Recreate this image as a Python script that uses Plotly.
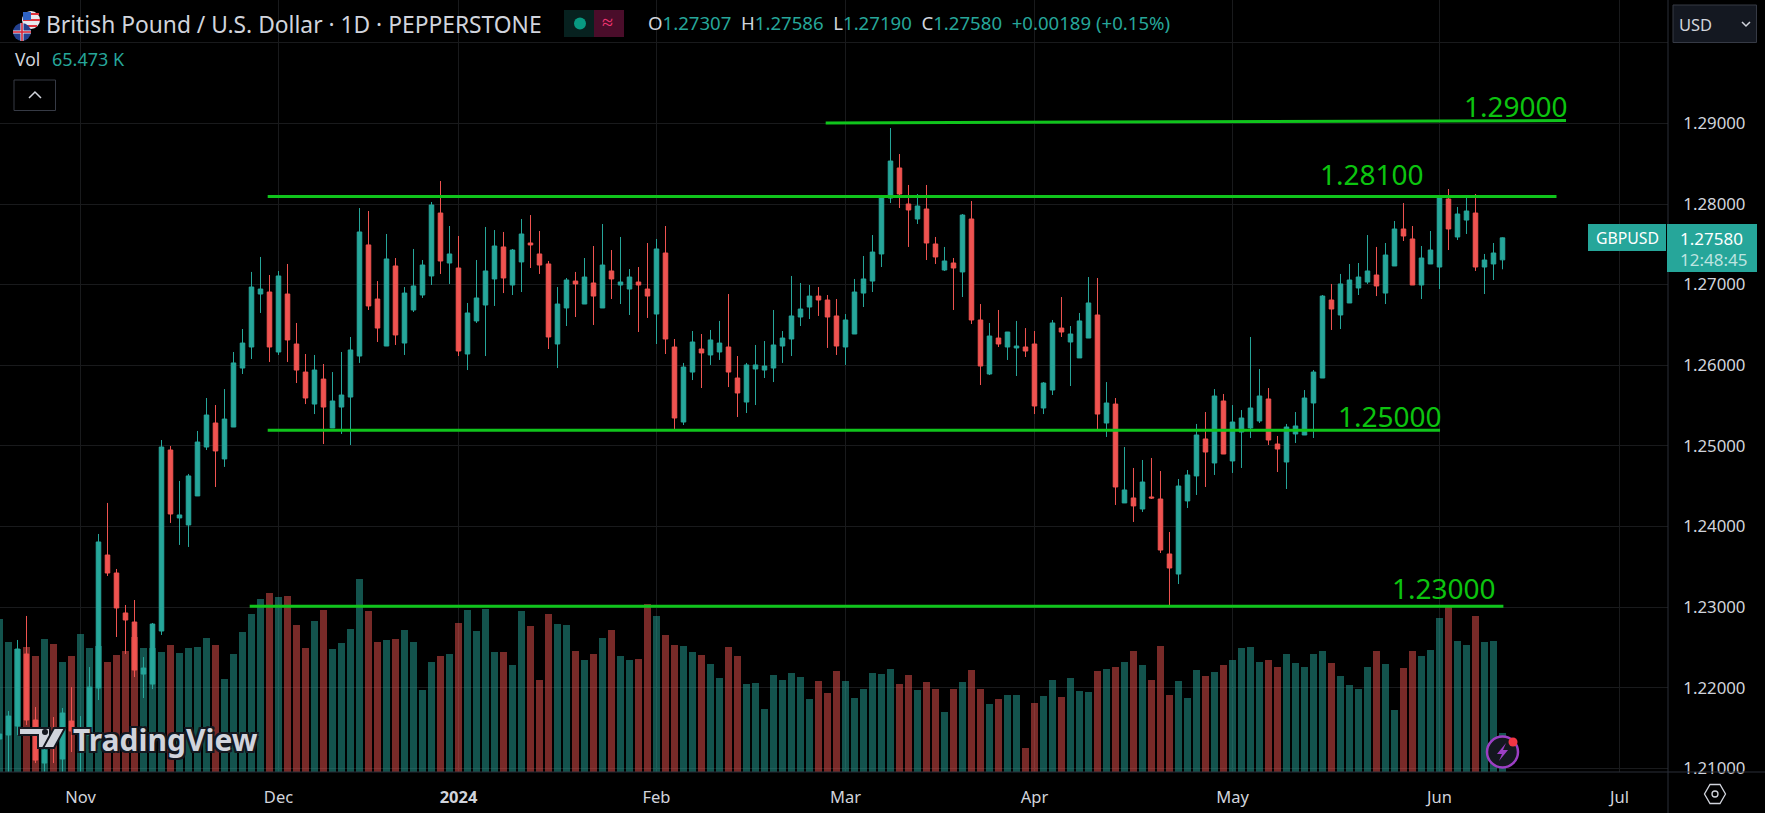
import plotly.graph_objects as go

open_prices = [
1.21362,1.21412,1.21523,1.22417,1.21598,1.21064,1.21412,1.21114,1.21585,1.21288,
1.21412,1.21995,1.23645,1.23422,1.22926,1.22814,1.22168,1.22044,1.22702,1.24948,
1.24105,1.24018,1.24378,1.24985,1.25283,1.24837,1.25233,1.25965,1.26226,1.26883,
1.26908,1.26164,1.26883,1.26263,1.25915,1.25518,1.25828,1.25221,1.25481,1.25605,
1.26114,1.27492,1.26821,1.26238,1.27231,1.26275,1.26685,1.26871,1.27107,1.27888,
1.27268,1.27206,1.26139,1.26549,1.26747,1.27070,1.27467,1.26995,1.27281,1.27516,
1.27380,1.27256,1.26263,1.26710,1.27044,1.26759,1.27020,1.26710,1.27169,1.26995,
1.26945,1.27032,1.26945,1.26635,1.27392,1.26226,1.25295,1.25915,1.26201,1.26127,
1.26164,1.26226,1.25841,1.25543,1.25953,1.25940,1.25965,1.26238,1.26325,1.26598,
1.26722,1.26858,1.26809,1.26611,1.26226,1.26387,1.26895,1.27044,1.27380,1.28074,
1.28447,1.28000,1.27814,1.27938,1.27504,1.27181,1.27268,1.27157,1.27814,1.26561,
1.25891,1.26337,1.26226,1.26214,1.26226,1.26263,1.25469,1.25692,1.26461,1.26288,
1.26090,1.26337,1.26623,1.25283,1.25518,1.24291,1.24353,1.24216,1.24365,1.24340,
1.23658,1.23409,1.24316,1.24626,1.25085,1.24787,1.25556,1.24812,1.25171,1.25221,
1.25308,1.25581,1.25022,1.24799,1.25147,1.25134,1.25531,1.25841,1.26809,1.26623,
1.26772,1.26958,1.27032,1.27119,1.26895,1.27231,1.27690,1.27566,1.26995,1.27256,
1.27218,1.28062,1.27591,1.27801,1.27888,1.27218,1.27256,1.27307]

high_prices = [
1.21536,1.21710,1.22591,1.22889,1.21759,1.21350,1.21635,1.21747,1.22007,1.21647,
1.22255,1.23906,1.24291,1.23472,1.23025,1.23087,1.22379,1.22802,1.25072,1.24997,
1.24564,1.24651,1.25184,1.25593,1.25506,1.25704,1.26164,1.26449,1.27157,1.27343,
1.27119,1.27169,1.27256,1.26524,1.26139,1.26127,1.26015,1.25915,1.26164,1.26350,
1.27950,1.27913,1.27044,1.27628,1.27330,1.26970,1.27442,1.27305,1.28025,1.28285,
1.27727,1.27603,1.26772,1.27305,1.27715,1.27677,1.27653,1.27442,1.27814,1.27863,
1.27665,1.27293,1.26970,1.27082,1.27157,1.27330,1.27479,1.27752,1.27429,1.27591,
1.27193,1.27218,1.27516,1.27566,1.27727,1.26325,1.26028,1.26424,1.26387,1.26437,
1.26549,1.26883,1.26114,1.26028,1.26251,1.26300,1.26685,1.26424,1.27107,1.27020,
1.26995,1.26970,1.26871,1.26821,1.26635,1.27070,1.27355,1.27615,1.28112,1.28943,
1.28620,1.28236,1.28124,1.28236,1.27591,1.27467,1.27330,1.27876,1.28037,1.26759,
1.26524,1.26685,1.26412,1.26549,1.26461,1.26424,1.25791,1.26561,1.26846,1.26486,
1.26648,1.27094,1.27082,1.25791,1.25593,1.24985,1.24725,1.24824,1.24849,1.24687,
1.23931,1.24588,1.24700,1.25271,1.25419,1.25704,1.25643,1.25506,1.25444,1.26350,
1.25953,1.25717,1.25122,1.25271,1.25419,1.25692,1.25940,1.26871,1.27008,1.27132,
1.27256,1.27268,1.27615,1.27467,1.27516,1.27789,1.28012,1.27727,1.27479,1.27665,
1.28099,1.28186,1.27963,1.28099,1.28124,1.27380,1.27516,1.27586]

low_prices = [
1.21201,1.20953,1.21412,1.21536,1.21064,1.20953,1.21064,1.20953,1.21201,1.20953,
1.21288,1.21846,1.23385,1.22628,1.22417,1.22131,1.21871,1.21982,1.22653,1.24043,
1.23770,1.23745,1.24378,1.24948,1.24489,1.24738,1.25233,1.25891,1.26077,1.26648,
1.26040,1.26127,1.26040,1.25779,1.25518,1.25394,1.25022,1.25221,1.25147,1.25010,
1.26028,1.26685,1.26288,1.26238,1.26251,1.26127,1.26660,1.26834,1.26995,1.27132,
1.27008,1.26114,1.25940,1.26524,1.26114,1.26735,1.26895,1.26871,1.26908,1.27206,
1.27132,1.26201,1.25965,1.26486,1.26598,1.26759,1.26499,1.26710,1.26821,1.26759,
1.26623,1.26412,1.26586,1.26263,1.26139,1.25196,1.25258,1.25816,1.25717,1.26003,
1.26065,1.25729,1.25357,1.25407,1.25506,1.25841,1.25791,1.26028,1.26114,1.26486,
1.26573,1.26611,1.26214,1.26127,1.26003,1.26387,1.26722,1.26908,1.27218,1.28012,
1.27950,1.27467,1.27752,1.27305,1.27256,1.27169,1.26685,1.26846,1.26511,1.25754,
1.25878,1.26226,1.26065,1.25866,1.26102,1.25394,1.25394,1.25630,1.26350,1.25742,
1.26090,1.26337,1.25196,1.25110,1.24266,1.24291,1.24055,1.24179,1.24340,1.23670,
1.23000,1.23285,1.24228,1.24390,1.24489,1.24638,1.24898,1.24663,1.24725,1.25097,
1.25283,1.25010,1.24675,1.24464,1.25035,1.25134,1.25097,1.25841,1.26437,1.26449,
1.26772,1.26871,1.27008,1.26858,1.26759,1.27231,1.27541,1.26995,1.26821,1.27256,
1.26945,1.27429,1.27553,1.27628,1.27169,1.26883,1.27057,1.27190]

close_prices = [
1.21424,1.21647,1.22479,1.21598,1.21101,1.21226,1.21288,1.21685,1.21461,1.21412,
1.22007,1.23807,1.23422,1.22988,1.22839,1.22218,1.22243,1.22789,1.24985,1.24154,
1.24142,1.24626,1.25047,1.25382,1.24936,1.25332,1.26028,1.26275,1.26970,1.26945,
1.26226,1.27107,1.26313,1.25940,1.25593,1.25940,1.25481,1.25556,1.25630,1.26189,
1.27653,1.26735,1.26461,1.27318,1.26375,1.26895,1.26983,1.27243,1.27988,1.27293,
1.27380,1.26176,1.26648,1.26834,1.27169,1.27479,1.27082,1.27429,1.27628,1.27492,
1.27243,1.26350,1.26759,1.27057,1.27008,1.27094,1.26858,1.27243,1.27070,1.27032,
1.27094,1.26995,1.26858,1.27442,1.26325,1.25345,1.25977,1.26288,1.26152,1.26313,
1.26275,1.25915,1.25655,1.26003,1.26003,1.25990,1.26251,1.26337,1.26611,1.26697,
1.26858,1.26809,1.26598,1.26238,1.26561,1.26908,1.27070,1.27404,1.28099,1.28533,
1.28124,1.27926,1.27975,1.27516,1.27343,1.27293,1.27206,1.27863,1.26561,1.25990,
1.26362,1.26263,1.26412,1.26238,1.26176,1.25494,1.25779,1.26524,1.26412,1.26387,
1.26549,1.26772,1.25394,1.25531,1.24489,1.24452,1.24254,1.24551,1.24353,1.23707,
1.23484,1.24501,1.24638,1.25134,1.24923,1.25618,1.24898,1.25295,1.25345,1.25469,
1.25618,1.25072,1.24960,1.25233,1.25246,1.25593,1.25915,1.26858,1.26697,1.27008,
1.27057,1.27094,1.27169,1.26983,1.27367,1.27690,1.27603,1.26995,1.27330,1.27429,
1.28087,1.27690,1.27876,1.27913,1.27218,1.27305,1.27392,1.27580]

volume_k = [
257,218,207,210,195,223,215,185,195,232,
208,212,185,197,203,227,208,208,202,213,
200,208,210,225,213,156,198,235,265,291,
301,294,296,247,208,254,272,207,217,240,
324,270,218,222,223,239,218,138,185,195,
198,250,272,237,274,202,202,180,270,245,
155,265,249,247,203,188,198,225,239,195,
188,190,282,262,230,213,212,202,197,181,
158,210,195,148,150,106,163,155,166,160,
123,153,133,170,153,124,139,166,165,173,
148,163,138,151,139,101,139,151,171,139,
114,123,129,129,40,116,128,155,126,158,
136,134,170,173,176,185,203,180,155,212,
129,153,124,171,161,168,180,188,208,210,
185,188,176,198,183,176,198,203,183,161,
146,139,176,203,181,104,175,203,195,205,
259,277,220,213,262,218,220,65.473]

month_bars = [9, 31, 51, 73, 94, 115, 137, 160, 180]
month_labels = ["Nov", "Dec", "<b>2024</b>", "Feb", "Mar", "Apr", "May", "Jun", "Jul"]
price_ticks = [1.21, 1.22, 1.23, 1.24, 1.25, 1.26, 1.27, 1.28, 1.29, 1.30]
price_labels = ["1.21000", "1.22000", "1.23000", "1.24000", "1.25000", "1.26000", "1.27000", "1.28000", "1.29000", ""]

level_lines = [
    ([91.8, 174.06], [1.29005, 1.29036]),
    ([29.8, 173.0], [1.28093, 1.28093]),
    ([29.8, 160.06], [1.25192, 1.25192]),
    ([27.8, 167.1], [1.23009, 1.23009]),
]
level_labels = [
    ("1.29000", 168.5, 1.29216),
    ("1.28100", 152.5, 1.28372),
    ("1.25000", 154.5, 1.25364),
    ("1.23000", 160.5, 1.23230),
]

UP, DOWN = "#26a69a", "#ef5350"
UP_VOL, DOWN_VOL = "rgba(38,166,154,0.5)", "rgba(239,83,80,0.5)"
GREEN = "#10c41c"
TEXT = "#d1d4dc"
GRID = "#191a1c"
BORDER = "#2a2e39"
FONT = "Noto Sans"
W, H, PW, PH = 1765, 813, 1668, 772
bars = list(range(len(open_prices)))


def xp(x):
    return x / PW


def yp(y):
    return 1 - y / PH


fig = go.Figure()
fig.add_trace(go.Bar(
    x=bars, y=volume_k, width=0.86, yaxis="y", hoverinfo="skip",
    marker=dict(color=[UP_VOL if c >= o else DOWN_VOL for o, c in zip(open_prices, close_prices)], line_width=0),
))
fig.add_trace(go.Candlestick(
    x=bars, open=open_prices, high=high_prices, low=low_prices, close=close_prices,
    yaxis="y2", whiskerwidth=0, hoverinfo="skip",
    increasing=dict(line=dict(color=UP, width=1), fillcolor=UP),
    decreasing=dict(line=dict(color=DOWN, width=1), fillcolor=DOWN),
))
for xs, ys in level_lines:
    fig.add_trace(go.Scatter(x=xs, y=ys, yaxis="y2", mode="lines", hoverinfo="skip",
                             line=dict(color=GREEN, width=3)))

ann = []


def label(x, y, text, size=16, color=TEXT, anchor="left", **kw):
    ann.append(dict(xref="paper", yref="paper", x=xp(x), y=yp(y), text=text, showarrow=False,
                    xanchor=anchor, yanchor="middle", font=dict(family=FONT, size=size, color=color, **kw)))


for text, x, y in level_labels:
    ann.append(dict(xref="x", yref="y2", x=x, y=y, text=text, showarrow=False, xanchor="center", yanchor="middle",
                    font=dict(family=FONT, size=28, color="#0cc40f")))

label(44, 24, "British Pound / U.S. Dollar · 1D · PEPPERSTONE", size=22.8)
label(13, 59, "Vol", size=17.5)
label(50, 59, "65.473 K", size=18, color=UP)


def grey(s):
    return f'<span style="color:{TEXT}">{s}</span>'


label(646, 23, grey("O") + "1.27307  " + grey("H") + "1.27586  " + grey("L") + "1.27190  " + grey("C")
      + "1.27580  +0.00189 (+0.15%)", size=18.6, color=UP)
label(607, 22, "≈", size=20, color="#f23674", anchor="center")
label(1677, 24, "USD", size=16.5)
label(1627, 238, "GBPUSD", size=15.8, color="#ffffff", anchor="center")
label(1678, 238, "1.27580", size=17, color="#ffffff")
label(1678, 259, "12:48:45", size=17, color="#bfe4e0")
shadow = "-2px -2px 0 #14171f, 2px -2px 0 #14171f, -2px 2px 0 #14171f, 2px 2px 0 #14171f"
ann.append(dict(xref="paper", yref="paper", x=xp(71), y=yp(739), text="<b>TradingView</b>", showarrow=False,
                xanchor="left", yanchor="middle",
                font=dict(family=FONT, size=30, color=TEXT, shadow=shadow)))

shapes = []


def rect(x0, y0, x1, y1, fill, line="rgba(0,0,0,0)", width=1):
    shapes.append(dict(type="rect", xref="paper", yref="paper", x0=xp(x0), x1=xp(x1), y0=yp(y0), y1=yp(y1),
                       fillcolor=fill, line=dict(color=line, width=width), layer="above"))


def circle(cx, cy, r, fill, line="rgba(0,0,0,0)", width=1):
    shapes.append(dict(type="circle", xref="paper", yref="paper", x0=xp(cx - r), x1=xp(cx + r),
                       y0=yp(cy + r), y1=yp(cy - r), fillcolor=fill, line=dict(color=line, width=width), layer="above"))


def path(points, fill=None, line="rgba(0,0,0,0)", width=1, close=True):
    d = "M " + " L ".join(f"{xp(x):.5f},{yp(y):.5f}" for x, y in points) + (" Z" if close else "")
    shapes.append(dict(type="path", xref="paper", yref="paper", path=d, fillcolor=fill or "rgba(0,0,0,0)",
                       line=dict(color=line, width=width), layer="above"))


# axis borders
path([(PW, 0), (PW, H)], line=BORDER, close=False)
path([(0, PH), (W, PH)], line=BORDER, close=False)
# flags
circle(31, 20, 9, "#e8e8ee")
rect(24, 13, 39, 15, "#e0323c")
rect(23, 19, 40, 21, "#e0323c")
rect(24, 25, 37, 27, "#e0323c")
rect(23, 12, 31, 20, "#2f63c4")
circle(22, 32, 9, "#24408e")
rect(13, 30.5, 31, 33.5, "#f0f0f4")
rect(20.5, 23, 23.5, 41, "#f0f0f4")
rect(13, 31.2, 31, 32.8, "#d8283a")
rect(21.2, 23, 22.8, 41, "#d8283a")
# collapse button
rect(14, 80, 55.5, 110.5, "#000000", line="#363a45")
path([(29, 98), (35, 92), (41, 98)], line=TEXT, width=1.5, close=False)
# status pill
rect(564, 10, 594, 37, "#07211f")
rect(594, 10, 624, 37, "#4a0d2a")
circle(580, 23.5, 6, "#089981")
# USD button
rect(1673, 5, 1756.5, 42.5, "#141821", line="#363a45")
path([(1742, 22), (1746, 26), (1750, 22)], line=TEXT, width=1.5, close=False)
# last price tags
rect(1588, 224, 1666, 251, UP)
rect(1667, 224, 1757, 272, UP)
# settings hexagon
path([(1710, 784.5), (1720, 784.5), (1725.5, 794), (1720, 803.5), (1710, 803.5), (1704.5, 794)], line=TEXT, width=1.3)
circle(1715, 794, 3, "rgba(0,0,0,0)", line=TEXT, width=1.3)
# TradingView mark
path([(19, 728), (50, 728), (50, 748), (38, 748), (38, 735), (19, 735)], fill=TEXT, line="#14171f", width=2)
circle(45, 732, 3, "#14171f")
path([(54, 728), (65, 728), (54, 748), (43, 748)], fill=TEXT, line="#14171f", width=2)
# alert bolt badge
circle(1502.5, 752, 15.5, "#14171f", line="#9c3fc4", width=2.5)
path([(1506, 743), (1497, 754), (1502, 754), (1499, 761), (1508, 750), (1503, 750)], fill="#9c3fc4")
circle(1513, 742, 4.5, "#f23645")

fig.update_layout(
    width=W, height=H, margin=dict(l=0, r=W - PW, t=0, b=H - PH, pad=0),
    paper_bgcolor="#000000", plot_bgcolor="#000000", showlegend=False, boxgap=0.28, bargap=0,
    hovermode=False, dragmode=False, annotations=ann, shapes=shapes,
    xaxis=dict(range=[0.0556, 185.39], rangeslider=dict(visible=False), tickmode="array",
               tickvals=month_bars, ticktext=month_labels, showgrid=True, gridcolor=GRID, gridwidth=1,
               zeroline=False, ticks="outside", ticklen=10, tickcolor="rgba(0,0,0,0)",
               tickfont=dict(family=FONT, size=16.5, color=TEXT), showline=False),
    yaxis=dict(range=[0, 1297], showgrid=False, zeroline=False, showticklabels=False, ticks=""),
    yaxis2=dict(range=[1.20953, 1.30531], overlaying="y", side="right", anchor="x", tickmode="array",
                tickvals=price_ticks, ticktext=price_labels, showgrid=True, gridcolor=GRID, gridwidth=1,
                zeroline=False, ticks="outside", ticklen=11, tickcolor="rgba(0,0,0,0)",
                tickfont=dict(family=FONT, size=16.8, color=TEXT), showline=False),
)
fig.write_html("out.html", config=dict(displayModeBar=False, staticPlot=True),
               post_script="document.body.style.margin='0';document.body.style.background='#000';document.documentElement.style.overflow='hidden';")
